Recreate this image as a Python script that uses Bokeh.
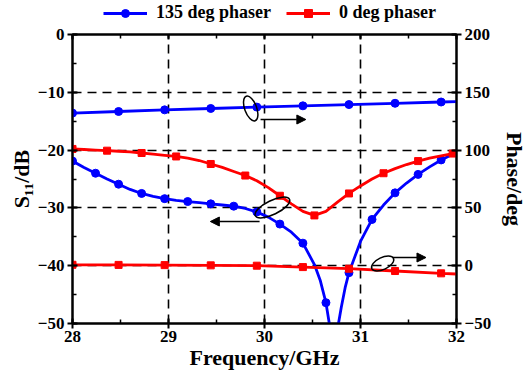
from bokeh.plotting import figure
from bokeh.layouts import column
from bokeh.models import (Range1d, LinearAxis, SingleIntervalTicker, Arrow,
                          NormalHead, Legend, LegendItem, CustomJSTickFormatter)
from bokeh.embed import file_html
from bokeh.resources import INLINE

# ---------------- data ----------------
# S11 of the 135 deg phaser (dB, left axis)
freq_135_s11 = [28.00, 28.12, 28.24, 28.36, 28.48, 28.60, 28.72, 28.84, 28.96, 29.08,
                29.20, 29.32, 29.44, 29.56, 29.68, 29.80, 29.92, 30.04, 30.16, 30.28,
                30.40, 30.52, 30.58, 30.64, 30.68, 30.72, 30.76, 30.80, 30.84, 30.88,
                31.00, 31.12, 31.24, 31.36, 31.48, 31.60, 31.72, 31.84, 31.96, 32.00]
s11_135 = [-21.9, -23.0, -24.0, -25.0, -25.9, -26.8, -27.5, -28.0, -28.4, -28.7,
           -28.9, -29.1, -29.3, -29.5, -29.7, -30.1, -30.7, -31.6, -32.8, -34.2,
           -36.1, -39.8, -42.5, -46.4, -50.5, -56.0, -51.0, -47.2, -43.8, -41.2,
           -35.8, -32.0, -29.5, -27.4, -25.7, -24.2, -22.9, -21.7, -20.7, -20.4]
mark_135_s11 = [28.00, 28.24, 28.48, 28.72, 28.96, 29.20, 29.44, 29.68, 29.92, 30.16,
                30.40, 30.64, 30.88, 31.12, 31.36, 31.60, 31.84]

# S11 of the 0 deg phaser (dB, left axis)
freq_0_s11 = [28.00, 28.12, 28.24, 28.36, 28.48, 28.60, 28.72, 28.84, 28.96, 29.08,
              29.20, 29.32, 29.44, 29.56, 29.68, 29.80, 29.92, 30.04, 30.16, 30.28,
              30.40, 30.52, 30.64, 30.76, 30.88, 31.00, 31.12, 31.24, 31.36, 31.48,
              31.60, 31.72, 31.84, 31.96, 32.00]
s11_0 = [-19.8, -19.9, -20.0, -20.1, -20.2, -20.3, -20.5, -20.7, -20.9, -21.1,
         -21.4, -21.8, -22.4, -23.0, -23.7, -24.4, -25.3, -26.5, -27.9, -29.3,
         -30.6, -31.3, -30.6, -29.0, -27.5, -26.2, -25.0, -24.0, -23.2, -22.5,
         -21.9, -21.4, -21.0, -20.6, -20.5]
mark_0_s11 = [28.00, 28.36, 28.72, 29.08, 29.44, 29.80, 30.16, 30.52, 30.88, 31.24,
              31.60, 31.96]

# Phase (deg, right axis)
freq_phase = [28.00, 28.48, 28.96, 29.44, 29.92, 30.40, 30.88, 31.36, 31.84, 32.00]
phase_135 = [132.0, 133.4, 134.8, 136.0, 137.2, 138.3, 139.4, 140.5, 141.6, 142.0]
phase_0 = [0.8, 0.7, 0.5, 0.3, 0.0, -1.2, -2.6, -4.6, -6.6, -7.2]
mark_phase = [28.00, 28.48, 28.96, 29.44, 29.92, 30.40, 30.88, 31.36, 31.84]

x_title = "Frequency/GHz"
left_title = "S\u2081\u2081/dB"
right_title = "Phase/deg"
legend_labels = ["135 deg phaser", "0 deg phaser"]

BLUE = "#0000FF"
RED = "#FF0000"
FONT = "Liberation Serif"


def pick(freqs, vals, marks):
    lut = {round(f, 2): v for f, v in zip(freqs, vals)}
    return list(marks), [lut[round(m, 2)] for m in marks]


# ---------------- layout geometry ----------------
W, H = 530, 373
LEG_H = 24                      # strip holding the legend
FL, FR = 72, 462                # frame left/right in page px
FT, FB = 34, 323                # frame top/bottom in page px
MH = H - LEG_H                  # main figure height

# ---------------- legend strip (its frame is aligned with the main frame) ----------------
lf = figure(width=W, height=LEG_H, output_backend="svg", toolbar_location=None,
            x_range=Range1d(0, 1), y_range=Range1d(0, 1), min_border=0,
            x_axis_type=None, y_axis_type=None)
lf.outline_line_color = None
lf.xgrid.visible = False
lf.ygrid.visible = False
# the series themselves (outside this strip's ranges, so only their legend swatches show)
ll1 = lf.line(freq_135_s11, s11_135, line_color=BLUE, line_width=2.8)
ls1 = lf.scatter(freq_135_s11, s11_135, marker="circle", size=8,
                 fill_color=BLUE, line_color=BLUE)
ll2 = lf.line(freq_0_s11, s11_0, line_color=RED, line_width=2.8)
ls2 = lf.scatter(freq_0_s11, s11_0, marker="square", size=7,
                 fill_color=RED, line_color=RED)
legend = Legend(items=[LegendItem(label=legend_labels[0], renderers=[ll1, ls1]),
                       LegendItem(label=legend_labels[1], renderers=[ll2, ls2])],
                orientation="horizontal", location=(103 - FL, 1),
                margin=0, padding=0, spacing=15, label_standoff=9,
                glyph_width=44, glyph_height=20,
                label_text_font=FONT, label_text_font_style="bold",
                label_text_font_size="18px", label_text_color="black",
                border_line_color=None, background_fill_alpha=0)
lf.add_layout(legend)

# ---------------- main figure ----------------
p = figure(width=W, height=MH, output_backend="svg", toolbar_location=None,
           x_range=Range1d(28, 32), y_range=Range1d(-50, 0),
           min_border_left=FL, min_border_right=W - FR,
           min_border_top=FT - LEG_H, min_border_bottom=H - FB)
p.extra_y_ranges = {"phase": Range1d(-50, 200)}
p.background_fill_color = "white"
p.border_fill_color = "white"
p.outline_line_color = "black"
p.outline_line_width = 2


def px2x(px):
    return 28 + (px - FL) / (FR - FL) * 4.0


def py2y(py):
    return 0 - (py - FT) / (FB - FT) * 50.0


def style_axis(ax):
    ax.axis_line_color = "black"
    ax.axis_line_width = 2
    ax.major_tick_line_color = "black"
    ax.major_tick_line_width = 2
    ax.minor_tick_line_color = "black"
    ax.minor_tick_line_width = 1.5
    ax.major_tick_in = 5
    ax.major_tick_out = 5
    ax.minor_tick_in = 4
    ax.minor_tick_out = 0
    ax.major_label_text_font = FONT
    ax.major_label_text_font_style = "bold"
    ax.major_label_text_font_size = "17px"
    ax.major_label_text_color = "black"
    ax.major_label_standoff = 3
    ax.axis_label_text_font = FONT
    ax.axis_label_text_font_style = "bold"
    ax.axis_label_text_font_size = "22px"
    ax.axis_label_text_color = "black"


p.xaxis.ticker = SingleIntervalTicker(interval=1, num_minor_ticks=2)
p.yaxis.ticker = SingleIntervalTicker(interval=10, num_minor_ticks=2)
for ax in p.xaxis + p.yaxis:
    style_axis(ax)
p.xaxis.axis_label = x_title
p.xaxis.major_label_standoff = 2
p.xaxis.axis_label_standoff = 0
p.yaxis.axis_label = left_title
p.yaxis.axis_label_standoff = 1

right_ax = LinearAxis(y_range_name="phase",
                      ticker=SingleIntervalTicker(interval=50, num_minor_ticks=2))
style_axis(right_ax)
right_ax.axis_label = right_title
right_ax.axis_label_standoff = 8
p.add_layout(right_ax, "right")

# top axis: ticks only (mirror of the bottom axis)
top_ax = LinearAxis(ticker=SingleIntervalTicker(interval=1, num_minor_ticks=2),
                    formatter=CustomJSTickFormatter(code="return ''"))
style_axis(top_ax)
top_ax.major_tick_out = 0
top_ax.major_label_text_font_size = "1px"
top_ax.major_label_standoff = 0
p.add_layout(top_ax, "above")

for g in (p.xgrid, p.ygrid):
    g.grid_line_color = "black"
    g.grid_line_width = 1.6
    g.grid_line_dash = "9 6"
p.xgrid.ticker = SingleIntervalTicker(interval=1)
p.ygrid.ticker = SingleIntervalTicker(interval=10)

# ---------------- series ----------------
lw = 2.8
p.line(freq_135_s11, s11_135, line_color=BLUE, line_width=lw)
mx, my = pick(freq_135_s11, s11_135, mark_135_s11)
p.scatter(mx, my, marker="circle", size=8, fill_color=BLUE, line_color=BLUE)

p.line(freq_0_s11, s11_0, line_color=RED, line_width=lw)
mx, my = pick(freq_0_s11, s11_0, mark_0_s11)
p.scatter(mx, my, marker="square", size=7, fill_color=RED, line_color=RED)

p.line(freq_phase, phase_135, line_color=BLUE, line_width=lw, y_range_name="phase")
mx, my = pick(freq_phase, phase_135, mark_phase)
p.scatter(mx, my, marker="circle", size=8, fill_color=BLUE, line_color=BLUE,
          y_range_name="phase")

p.line(freq_phase, phase_0, line_color=RED, line_width=lw, y_range_name="phase")
mx, my = pick(freq_phase, phase_0, mark_phase)
p.scatter(mx, my, marker="square", size=7, fill_color=RED, line_color=RED,
          y_range_name="phase")

# ---------------- annotations (ellipses + arrows) ----------------
p.ellipse(x=[px2x(253), px2x(275), px2x(387)],
          y=[py2y(108), py2y(207), py2y(263)],
          width=[12, 38, 24], height=[26, 14, 12], angle=[0.35, 0.45, 0.45],
          width_units="screen", height_units="screen",
          fill_color=None, line_color="black", line_width=1.5)

for (xs, ys, xe, ye) in [(263, 119, 309, 119), (262, 221, 212, 221), (397, 257, 431, 257)]:
    p.add_layout(Arrow(end=NormalHead(size=9, fill_color="black", line_color="black"),
                       x_start=px2x(xs), y_start=py2y(ys), x_end=px2x(xe), y_end=py2y(ye),
                       line_color="black", line_width=1.3))

page = column(lf, p, spacing=0)
open("out.html", "w").write(file_html(page, INLINE))
